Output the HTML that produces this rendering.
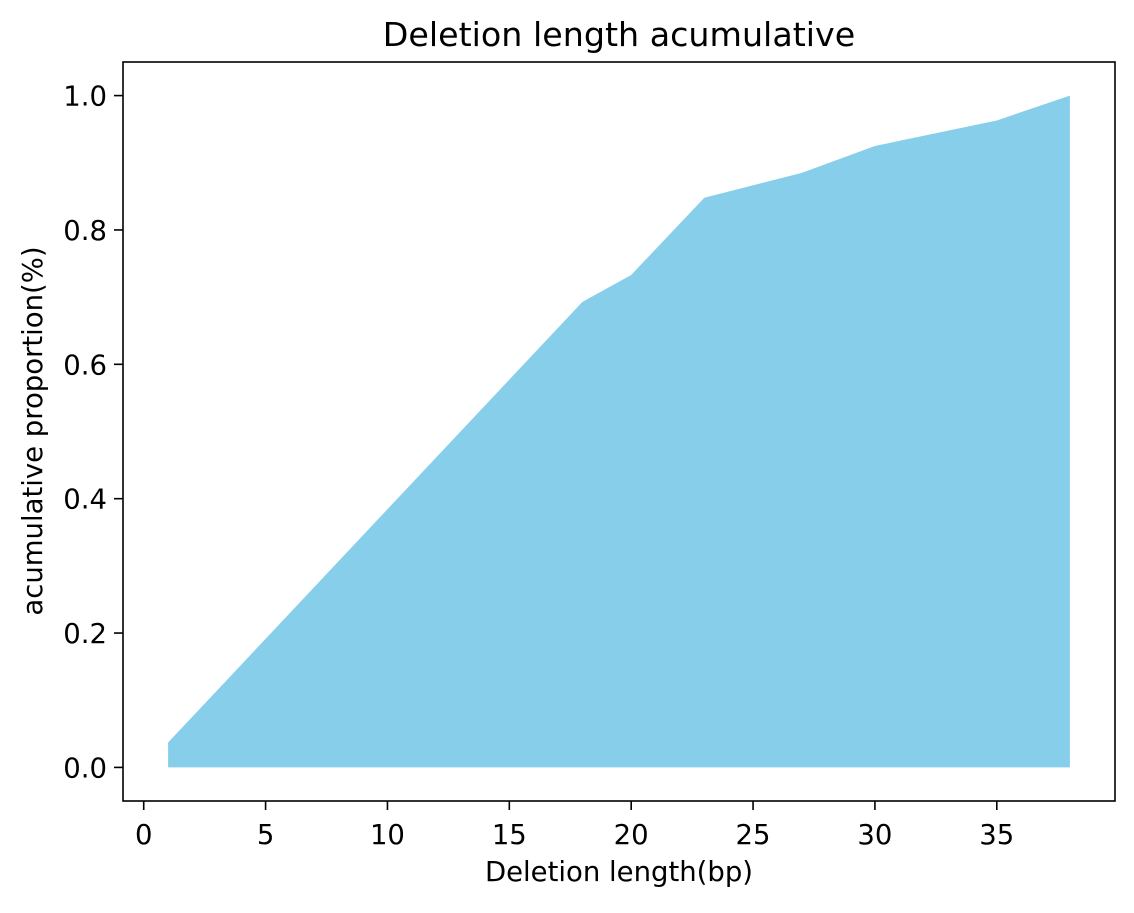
<!DOCTYPE html>
<html><head><meta charset="utf-8"><style>
body{margin:0;background:#fff;}
svg text{font-family:"DejaVu Sans","Liberation Sans",sans-serif;fill:#000;}
</style></head><body>
<svg id="chart" width="1134" height="908" xmlns="http://www.w3.org/2000/svg">
<text x="619" y="46" font-size="33.3" text-anchor="middle">Deletion length acumulative</text>
<g id="plot"></g>
<rect x="123" y="62" width="992" height="739" fill="none" stroke="#000" stroke-width="1.6"/>
<text x="619" y="881" font-size="27.5" text-anchor="middle">Deletion length(bp)</text>
<text transform="translate(42,431) rotate(-90)" font-size="27.5" text-anchor="middle">acumulative proportion(%)</text>
</svg>
<script>
const xs = [1, 18, 20, 23, 27, 30, 35, 38];
const ys = [0.037, 0.693, 0.733, 0.848, 0.885, 0.925, 0.963, 1.0];
const xTicks = [0, 5, 10, 15, 20, 25, 30, 35];
const yTicks = [0.0, 0.2, 0.4, 0.6, 0.8, 1.0];
const X0=123, X1=1115, Y0=62, Y1=801;
const xmin=-0.85, xmax=39.85, ymin=-0.05, ymax=1.05;
const sx = v => X0 + (v - xmin) / (xmax - xmin) * (X1 - X0);
const sy = v => Y1 - (v - ymin) / (ymax - ymin) * (Y1 - Y0);
const NS = "http://www.w3.org/2000/svg";
const g = document.getElementById('plot');
let d = `M${sx(xs[0])},${sy(0)}`;
xs.forEach((x,i)=>{ d += ` L${sx(x)},${sy(ys[i])}`; });
d += ` L${sx(xs[xs.length-1])},${sy(0)} Z`;
const area = document.createElementNS(NS,'path');
area.setAttribute('d', d);
area.setAttribute('fill', '#87ceeb');


g.appendChild(area);
xTicks.forEach(t=>{
  const x = sx(t);
  const l = document.createElementNS(NS,'line');
  l.setAttribute('x1',x); l.setAttribute('x2',x); l.setAttribute('y1',Y1); l.setAttribute('y2',Y1+9);
  l.setAttribute('stroke','#000'); l.setAttribute('stroke-width','1.6');
  
  
  g.appendChild(l);
  const tx = document.createElementNS(NS,'text');
  tx.setAttribute('x',x); tx.setAttribute('y',Y1+43); tx.setAttribute('font-size','27.5'); tx.setAttribute('text-anchor','middle');
  tx.textContent = t;
  
  
  g.appendChild(tx);
});
yTicks.forEach(t=>{
  const y = sy(t);
  const l = document.createElementNS(NS,'line');
  l.setAttribute('x1',X0-9); l.setAttribute('x2',X0); l.setAttribute('y1',y); l.setAttribute('y2',y);
  l.setAttribute('stroke','#000'); l.setAttribute('stroke-width','1.6');
  
  
  g.appendChild(l);
  const tx = document.createElementNS(NS,'text');
  tx.setAttribute('x',X0-16); tx.setAttribute('y',y+10); tx.setAttribute('font-size','27.5'); tx.setAttribute('text-anchor','end');
  tx.textContent = t.toFixed(1);
  
  
  g.appendChild(tx);
});
</script>
</body></html>
